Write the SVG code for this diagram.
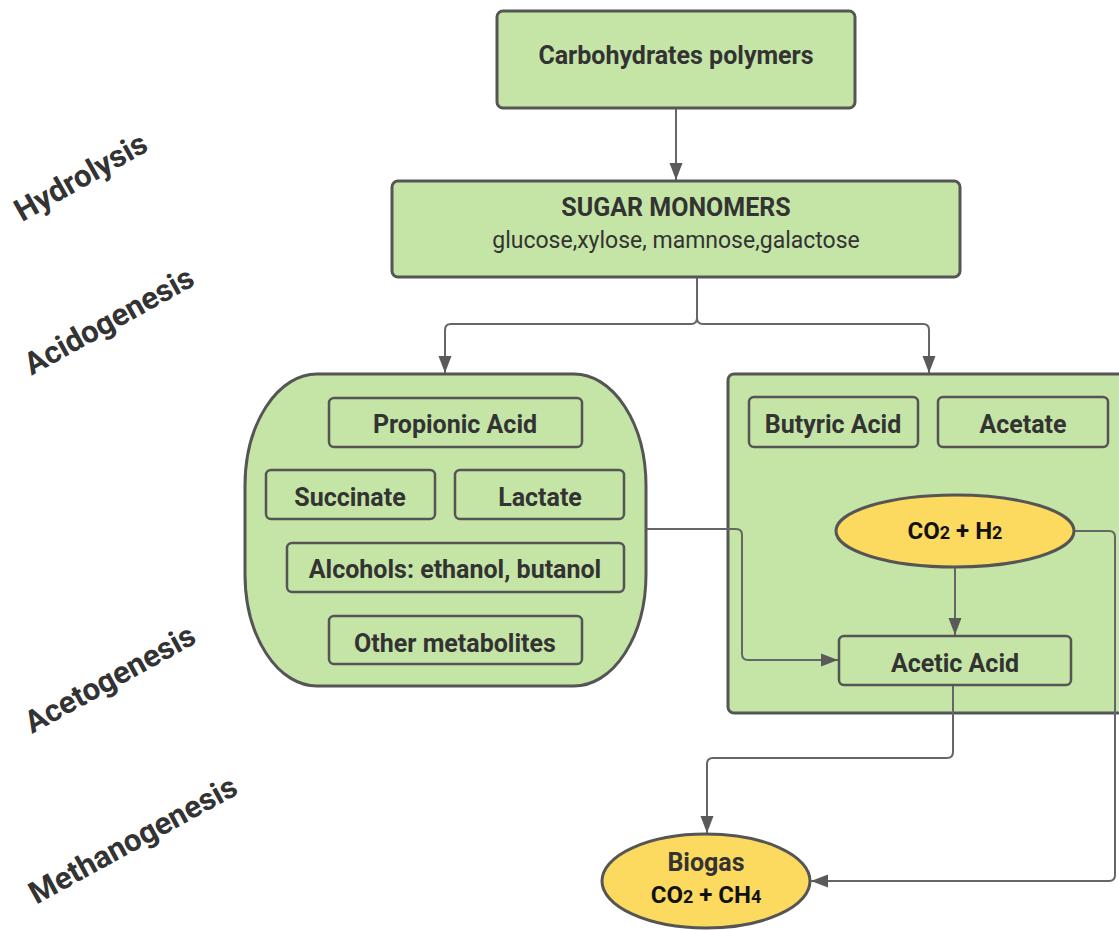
<svg xmlns="http://www.w3.org/2000/svg" width="1119" height="930" viewBox="0 0 1119 930">
  <defs>
    <marker id="arrow" viewBox="0 0 17 14" refX="17" refY="7" markerWidth="17" markerHeight="14" markerUnits="userSpaceOnUse" orient="auto">
      <path d="M0,0.5 L17,7 L0,13.5 Z" fill="#5a5a5a"/>
    </marker>
    <style>
      .box { fill: #c5e5a6; stroke: #555555; stroke-width: 3; }
      .inner { fill: #c5e5a6; stroke: #555555; stroke-width: 2.5; }
      .gas { fill: #fcd95f; stroke: #555555; stroke-width: 3; }
      .conn { fill: none; stroke: #666666; stroke-width: 2; }
      text { font-family: Roboto, "Liberation Sans", sans-serif; text-anchor: middle; fill: #333333; }
      .b { font-weight: bold; font-size: 25px; }
      .r { font-size: 23px; }
      .k { fill: #111111; font-weight: bold; font-size: 24px; }
      .sub { font-size: 18px; }
      .stage { font-weight: bold; font-size: 31px; text-anchor: middle; }
    </style>
  </defs>

  <!-- process stage labels -->
  <g id="stages">
    <text class="stage" transform="translate(86,186) rotate(-29.5)">Hydrolysis</text>
    <text class="stage" transform="translate(114,330) rotate(-29)">Acidogenesis</text>
    <text class="stage" transform="translate(115,688) rotate(-29)">Acetogenesis</text>
    <text class="stage" transform="translate(138,849) rotate(-28.7)">Methanogenesis</text>
  </g>

  <g id="polymers">
    <rect class="box" x="497" y="11" width="358" height="97" rx="6"/>
    <text class="b" x="676" y="64">Carbohydrates polymers</text>
  </g>

  <g id="monomers">
    <rect class="box" x="392" y="181" width="568" height="96" rx="6"/>
    <text class="b" x="676" y="216">SUGAR MONOMERS</text>
    <text class="r" x="676" y="248">glucose,xylose, mamnose,galactose</text>
  </g>

  <g id="metabolites">
    <rect class="box" x="245" y="374" width="401" height="312" rx="72" ry="112"/>
    <rect class="inner" x="329" y="398" width="253" height="49" rx="5"/>
    <text class="b" x="455" y="433">Propionic Acid</text>
    <rect class="inner" x="266" y="470" width="169" height="49" rx="5"/>
    <text class="b" x="350" y="506">Succinate</text>
    <rect class="inner" x="455" y="470" width="169" height="49" rx="5"/>
    <text class="b" x="540" y="506">Lactate</text>
    <rect class="inner" x="287" y="543" width="337" height="49" rx="5"/>
    <text class="b" x="455" y="578">Alcohols: ethanol, butanol</text>
    <rect class="inner" x="329" y="616" width="253" height="48" rx="5"/>
    <text class="b" x="455" y="652">Other metabolites</text>
  </g>

  <g id="acids">
    <rect class="box" x="728" y="374" width="400" height="339" rx="6"/>
    <rect class="inner" x="749" y="397" width="169" height="50" rx="5"/>
    <text class="b" x="833" y="433">Butyric Acid</text>
    <rect class="inner" x="938" y="397" width="170" height="50" rx="5"/>
    <text class="b" x="1023" y="433">Acetate</text>
  </g>

  <g id="co2-h2">
    <ellipse class="gas" cx="955" cy="531" rx="119" ry="36"/>
    <text class="k" x="955" y="539">CO<tspan class="sub">2</tspan> + H<tspan class="sub">2</tspan></text>
  </g>

  <g id="acetic-acid">
    <rect class="inner" x="839" y="636" width="232" height="49" rx="5"/>
    <text class="b" x="955" y="672">Acetic Acid</text>
  </g>

  <g id="biogas">
    <ellipse class="gas" cx="706" cy="881" rx="104" ry="47"/>
    <text class="b" x="706" y="871" font-size="24">Biogas</text>
    <text class="k" x="706" y="903">CO<tspan class="sub">2</tspan> + CH<tspan class="sub">4</tspan></text>
  </g>

  <g id="connectors">
    <path class="conn" d="M676,109 V180" marker-end="url(#arrow)"/>
    <path class="conn" d="M697,278 V318 Q697,324 691,324 H451 Q445,324 445,330 V373" marker-end="url(#arrow)"/>
    <path class="conn" d="M697,318 Q697,324 703,324 H923 Q929,324 929,330 V373" marker-end="url(#arrow)"/>
    <path class="conn" d="M647,529 H736 Q742,529 742,535 V654 Q742,660 748,660 H838" marker-end="url(#arrow)"/>
    <path class="conn" d="M955,568 V635" marker-end="url(#arrow)"/>
    <path class="conn" d="M953,686 V752 Q953,758 947,758 H713 Q707,758 707,764 V833" marker-end="url(#arrow)"/>
    <path class="conn" d="M1075,531 H1109 Q1115,531 1115,537 V875 Q1115,881 1109,881 H811" marker-end="url(#arrow)"/>
  </g>
</svg>
